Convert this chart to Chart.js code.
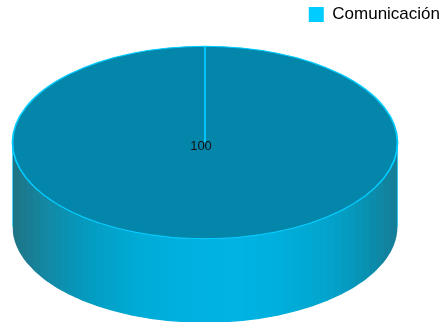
<!DOCTYPE html>
<html>
<head>
<meta charset="utf-8">
<title>Comunicación</title>
<script src="https://cdn.jsdelivr.net/npm/chart.js@4/dist/chart.umd.min.js"></script>
<style>
  html, body { margin: 0; padding: 0; background: #fff; }
  canvas { display: block; }
</style>
</head>
<body>
<canvas id="chart" width="444" height="322"></canvas>
<script>
const categories = ['Comunicación'];
const seriesValues = [100];
const legendColor = '#00ccff';
const topColor = '#0486aa';
// side wall colours, left to right
const wallColors = [[29, 117, 135], [19, 138, 166], [6, 152, 187], [2, 164, 204], [0, 172, 216], [0, 176, 222], [0, 178, 226], [0, 179, 227], [0, 176, 222], [1, 169, 212], [4, 160, 200], [10, 143, 176], [24, 122, 146]];

const tilt = 0.5;
const depth = 84;
const rightPad = 34;
const bandWidth = 7;

function wallColor(t){
  const p = t * (wallColors.length - 1);
  const i = Math.min(Math.floor(p), wallColors.length - 2);
  const f = p - i;
  const c = wallColors[i].map((v, k) => Math.round(v + (wallColors[i + 1][k] - v) * f));
  return `rgb(${c[0]},${c[1]},${c[2]})`;
}

// squashes the pie into an ellipse and puts the side wall under it
const pie3d = {
  id: 'pie3d',
  afterLayout(chart){
    // pie is centred left of the canvas middle, legend stays at the right edge
    chart.legend.left += rightPad;
    chart.legend.right += rightPad;
  },
  beforeDatasetsDraw(chart){
    const ctx = chart.ctx;
    const arc = chart.getDatasetMeta(0).data[0];
    const x = arc.x, y = arc.y, r = arc.outerRadius;

    ctx.save();
    ctx.beginPath();
    ctx.ellipse(x, y, r, r * tilt, 0, Math.PI, 0, true);
    ctx.ellipse(x, y + depth, r, r * tilt, 0, 0, Math.PI);
    ctx.closePath();
    ctx.save();
    ctx.clip();
    for(let sx = x - r; sx < x + r; sx += bandWidth){
      ctx.fillStyle = wallColor((sx - (x - r)) / (2 * r));
      ctx.fillRect(sx, y - r, bandWidth + 0.5, 2 * r);
    }
    ctx.restore();
    // thin light edge down both sides
    ctx.strokeStyle = 'rgba(0,204,255,0.6)';
    ctx.lineWidth = 1;
    [x - r, x + r].forEach(ex => {
      ctx.beginPath();
      ctx.moveTo(ex, y);
      ctx.lineTo(ex, y + depth);
      ctx.stroke();
    });
    ctx.restore();

    ctx.save();
    ctx.translate(x, y);
    ctx.scale(1, tilt);
    ctx.translate(-x, -y);
  },
  afterDatasetsDraw(chart){
    const ctx = chart.ctx;
    ctx.restore();
    const arc = chart.getDatasetMeta(0).data[0];
    ctx.save();
    ctx.fillStyle = '#111';
    ctx.font = '13px "Liberation Sans", Arial, sans-serif';
    ctx.textAlign = 'center';
    ctx.textBaseline = 'middle';
    ctx.fillText(String(seriesValues[0]), arc.x - 4, arc.y + 4);
    ctx.restore();
  }
};

new Chart(document.getElementById('chart'), {
  type: 'pie',
  data: {
    labels: categories,
    datasets: [{
      data: seriesValues,
      backgroundColor: topColor,
      borderColor: legendColor,
      borderWidth: 1.8,
      radius: 192.5,
      clip: false
    }]
  },
  options: {
    responsive: false,
    animation: false,
    layout: { padding: { left: 0, top: 2, right: rightPad, bottom: 70 } },
    plugins: {
      tooltip: { enabled: false },
      legend: {
        position: 'top',
        align: 'end',
        labels: {
          boxWidth: 15,
          boxHeight: 15,
          padding: 4,
          color: '#111',
          font: { size: 17, family: '"Liberation Sans", Arial, sans-serif' },
          generateLabels: () => categories.map((c, i) => ({
            text: c, fillStyle: legendColor, strokeStyle: legendColor, lineWidth: 0, index: i
          }))
        }
      }
    }
  },
  plugins: [pie3d]
});
</script>
</body>
</html>
